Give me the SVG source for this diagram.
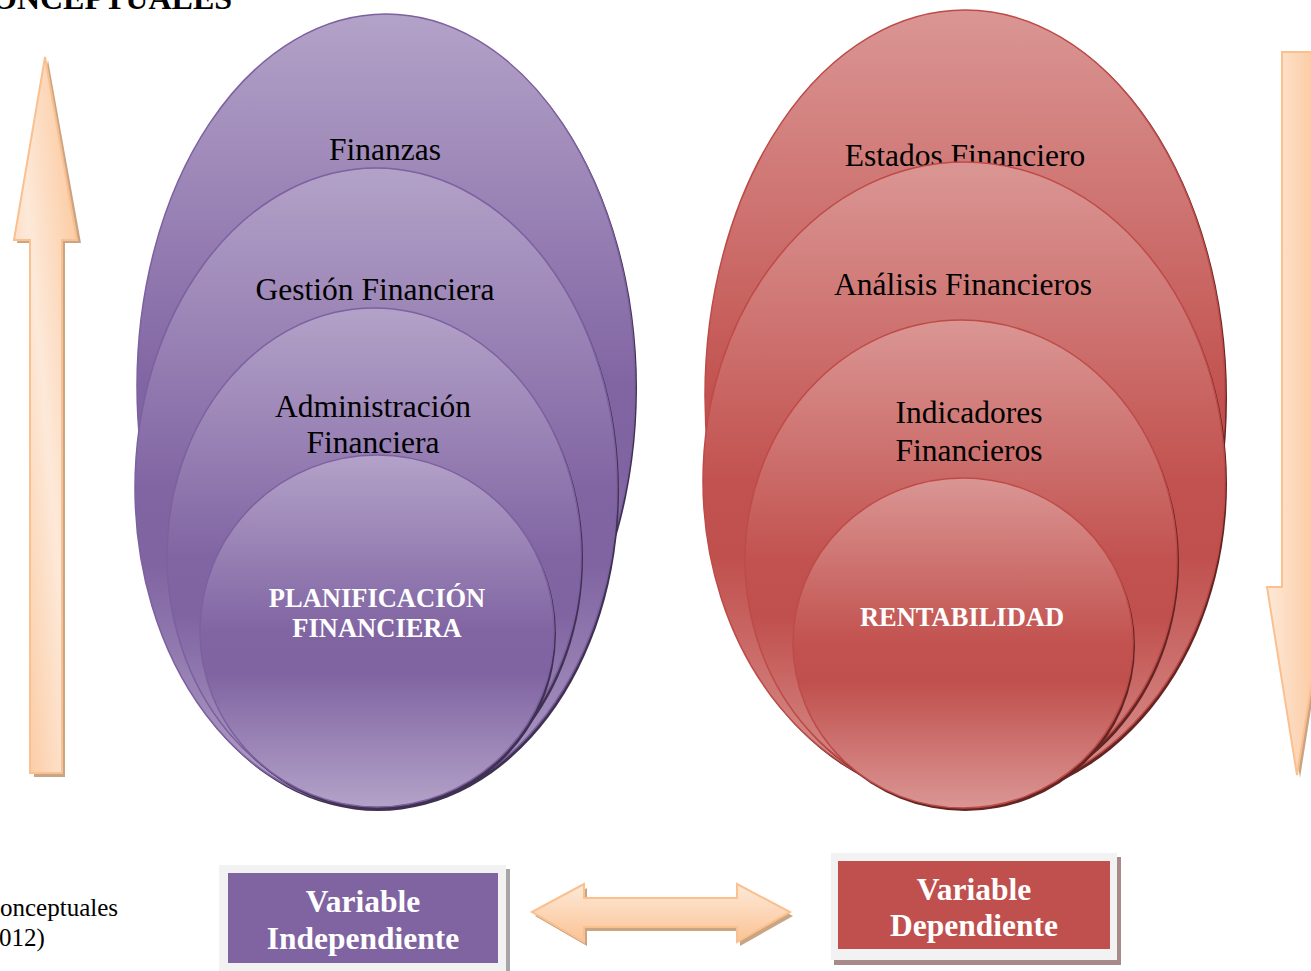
<svg xmlns="http://www.w3.org/2000/svg" width="1311" height="971" viewBox="0 0 1311 971">
  <defs>
    <linearGradient id="gPurple" x1="0" y1="0" x2="0" y2="1">
      <stop offset="0" stop-color="#b3a2c8"/>
      <stop offset="0.5" stop-color="#8165a3"/>
      <stop offset="0.62" stop-color="#8064a2"/>
      <stop offset="1" stop-color="#b3a2c8"/>
    </linearGradient>
    <linearGradient id="gRed" x1="0" y1="0" x2="0" y2="1">
      <stop offset="0" stop-color="#da9694"/>
      <stop offset="0.5" stop-color="#c2524f"/>
      <stop offset="0.62" stop-color="#c0504d"/>
      <stop offset="1" stop-color="#da9694"/>
    </linearGradient>
    <linearGradient id="gPeachH" x1="0" y1="0" x2="1" y2="0">
      <stop offset="0" stop-color="#fde9d9"/>
      <stop offset="1" stop-color="#fbc394"/>
    </linearGradient>
    <linearGradient id="gPeachV" x1="0" y1="0" x2="0" y2="1">
      <stop offset="0" stop-color="#fde9d9"/>
      <stop offset="1" stop-color="#fbc394"/>
    </linearGradient>
    <linearGradient id="gPeachD" x1="0" y1="1" x2="1" y2="0">
      <stop offset="0" stop-color="#fbc394"/>
      <stop offset="0.5" stop-color="#fde9d9"/>
      <stop offset="1" stop-color="#fbc394"/>
    </linearGradient>
  </defs>
  <style>
    .pu { fill: url(#gPurple); stroke: #7d60a0; stroke-width: 1.5; }
    .pus { fill: #3f3151; }
    .rd { fill: url(#gRed); stroke: #be4b48; stroke-width: 1.5; }
    .rds { fill: #632523; }
    .lbl { font-family: "Liberation Serif", "Times New Roman", serif; font-size: 31.5px; fill: #000; text-anchor: middle; }
    .core { font-family: "Liberation Serif", "Times New Roman", serif; font-weight: bold; font-size: 26.5px; fill: #fff; text-anchor: middle; }
    .var { font-family: "Liberation Serif", "Times New Roman", serif; font-weight: bold; font-size: 31.5px; fill: #fff; text-anchor: middle; }
    .arrow { stroke: #fac08f; stroke-width: 2; }
    .ashadow { fill: #c9a584; }
    .plain { font-family: "Liberation Serif", "Times New Roman", serif; font-size: 25px; fill: #000; }
  </style>

  <!-- heading (cut at the page edge) -->
  <text x="-8" y="9" font-family="Liberation Serif, Times New Roman, serif" font-weight="bold" font-size="32" fill="#000">ONCEPTUALES</text>

  <!-- left column: nested purple ellipses -->
  <g id="finanzas">
    <ellipse class="pus" cx="388" cy="388" rx="249" ry="372"/>
    <ellipse class="pu" cx="386" cy="386" rx="249" ry="372"/>
    <text class="lbl" x="385" y="160">Finanzas</text>
  </g>
  <g id="gestion-financiera">
    <ellipse class="pus" cx="378" cy="491" rx="241" ry="320"/>
    <ellipse class="pu" cx="376" cy="488" rx="241" ry="320"/>
    <text class="lbl" x="375" y="300">Gestión Financiera</text>
  </g>
  <g id="administracion-financiera">
    <ellipse class="pus" cx="376" cy="559" rx="207" ry="248"/>
    <ellipse class="pu" cx="374" cy="556" rx="207" ry="248"/>
    <text class="lbl" x="373" y="417">Administración</text>
    <text class="lbl" x="373" y="453">Financiera</text>
  </g>
  <g id="planificacion-financiera">
    <ellipse class="pus" cx="379" cy="634" rx="177" ry="176"/>
    <ellipse class="pu" cx="377" cy="631" rx="177" ry="176"/>
    <text class="core" x="377" y="607">PLANIFICACIÓN</text>
    <text class="core" x="377" y="637">FINANCIERA</text>
  </g>

  <!-- right column: nested red ellipses -->
  <g id="estados-financiero">
    <ellipse class="rds" cx="967" cy="398" rx="260" ry="387"/>
    <ellipse class="rd" cx="965" cy="396" rx="260" ry="386"/>
    <text class="lbl" x="965" y="166">Estados Financiero</text>
  </g>
  <g id="analisis-financieros">
    <ellipse class="rds" cx="966" cy="484" rx="261" ry="319"/>
    <ellipse class="rd" cx="964" cy="481" rx="261" ry="319"/>
    <text class="lbl" x="963" y="295">Análisis Financieros</text>
  </g>
  <g id="indicadores-financieros">
    <ellipse class="rds" cx="963" cy="563" rx="216" ry="240"/>
    <ellipse class="rd" cx="961" cy="560" rx="216" ry="240"/>
    <text class="lbl" x="969" y="423">Indicadores</text>
    <text class="lbl" x="969" y="461">Financieros</text>
  </g>
  <g id="rentabilidad">
    <ellipse class="rds" cx="965" cy="646" rx="170" ry="165"/>
    <ellipse class="rd" cx="963" cy="643" rx="170" ry="165"/>
    <text class="core" x="962" y="626">RENTABILIDAD</text>
  </g>

  <!-- variable labels -->
  <g id="variable-independiente">
    <rect x="222" y="869" width="288" height="104" fill="#a6a6a6"/>
    <rect x="219" y="865" width="287" height="106" fill="#f2f2f2"/>
    <rect x="228" y="873" width="270" height="90" fill="#8064a2"/>
    <text class="var" x="363" y="912">Variable</text>
    <text class="var" x="363" y="949">Independiente</text>
  </g>
  <g id="variable-dependiente">
    <rect x="834" y="857" width="287" height="108" fill="#a88a8a"/>
    <rect x="831" y="853" width="286" height="107" fill="#f2f2f2"/>
    <rect x="838" y="861" width="272" height="88" fill="#c0504d"/>
    <text class="var" x="974" y="900">Variable</text>
    <text class="var" x="974" y="936">Dependiente</text>
  </g>

  <!-- connectors: direction arrows -->
  <g id="connectors">
    <!-- upward arrow, left side -->
    <polygon class="ashadow" points="48,60 81,243 65,243 65,777 34,777 34,243 17,243"/>
    <polygon class="arrow" fill="url(#gPeachD)" points="45,57 77,240 62,240 62,773 30,773 30,240 14,240"/>
    <!-- downward arrow, right side -->
    <polygon class="ashadow" points="1285,55 1315,55 1315,590 1330,590 1300,778 1270,590 1285,590"/>
    <polygon class="arrow" fill="url(#gPeachH)" points="1282,52 1312,52 1312,587 1327,587 1297,775 1267,587 1282,587"/>
    <!-- two-way arrow between the variables -->
    <polygon class="ashadow" points="535,916 587,888 587,902 740,902 740,888 793,916 740,946 740,931 587,931 587,946"/>
    <polygon class="arrow" fill="url(#gPeachV)" points="532,912 584,884 584,898 737,898 737,884 790,912 737,942 737,927 584,927 584,942"/>
  </g>

  <!-- source note (cut at the page edge) -->
  <text class="plain" x="0" y="916">onceptuales</text>
  <text class="plain" x="-1" y="946">012)</text>
</svg>
